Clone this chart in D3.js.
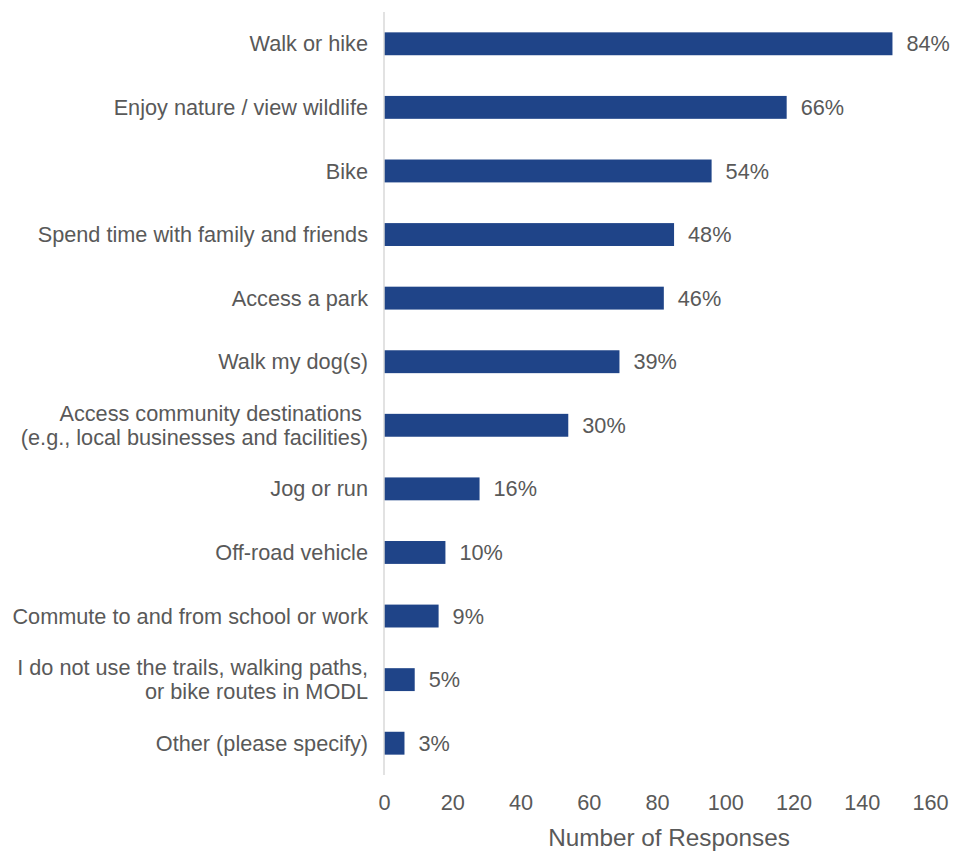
<!DOCTYPE html>
<html>
<head>
<meta charset="utf-8">
<script src="https://cdn.jsdelivr.net/npm/d3@7"></script>
<style>
  body { margin: 0; background: #fff; }
  text { font-family: "Liberation Sans", Arial, sans-serif; fill: #595959; }
</style>
</head>
<body>
<div id="chart"></div>
<script>
/* trail use bar chart */

var categories = [
	["Walk or hike"],
	["Enjoy nature / view wildlife"],
	["Bike"],
	["Spend time with family and friends"],
	["Access a park"],
	["Walk my dog(s)"],
	["Access community destinations ", "(e.g., local businesses and facilities)"],
	["Jog or run"],
	["Off-road vehicle"],
	["Commute to and from school or work"],
	["I do not use the trails, walking paths,", "or bike routes in MODL"],
	["Other (please specify)"]
];
var responses = [149, 118, 96, 85, 82, 69, 54, 28, 18, 16, 9, 6];
var percents = ["84%", "66%", "54%", "48%", "46%", "39%", "30%", "16%", "10%", "9%", "5%", "3%"];
var xTicks = [0, 20, 40, 60, 80, 100, 120, 140, 160];

var width = 961, height = 853;
var margin = {top: 12, right: 31, bottom: 78, left: 384};
var fontSize = "21.7px";

var svg = d3.select("#chart").append("svg")
	.attr("width", width)
	.attr("height", height);

var x = d3.scaleLinear()
	.domain([0, 160])
	.range([margin.left, width - margin.right]);

var y = d3.scaleBand()
	.domain(d3.range(categories.length))
	.range([margin.top, height - margin.bottom])
	.paddingInner(0.64)
	.paddingOuter(0.32);

// bars
svg.selectAll(".bar")
	.data(responses)
	.enter()
	.append("rect")
	.attr("x", x(0))
	.attr("y", (d, i) => y(i))
	.attr("width", d => x(d) - x(0))
	.attr("height", y.bandwidth())
	.style("fill", "#1f4488");

// value labels
svg.selectAll(".pct")
	.data(responses)
	.enter()
	.append("text")
	.attr("x", d => x(d) + 14)
	.attr("y", (d, i) => y(i) + y.bandwidth() / 2)
	.attr("dy", "0.35em")
	.style("font-size", fontSize)
	.text((d, i) => percents[i]);

// category labels
var labels = svg.selectAll(".cat")
	.data(categories)
	.enter()
	.append("text")
	.attr("text-anchor", "end")
	.attr("y", (d, i) => y(i) + y.bandwidth() / 2)
	.style("font-size", fontSize);

labels.selectAll("tspan")
	.data(d => d.map((line, j) => ({line: line, j: j, n: d.length})))
	.enter()
	.append("tspan")
	.attr("x", margin.left - 16)
	.attr("dy", d => d.j === 0 ? (0.35 - (d.n - 1) * 0.55) + "em" : "1.1em")
	.style("white-space", "pre")
	.text(d => d.line);

// vertical axis line
svg.append("line")
	.attr("x1", x(0)).attr("x2", x(0))
	.attr("y1", margin.top).attr("y2", height - margin.bottom)
	.style("stroke", "#d9d9d9")
	.style("stroke-width", 1.5);

// x axis
var xAxis = svg.append("g")
	.attr("transform", `translate(0, ${height - margin.bottom})`)
	.call(d3.axisBottom(x).tickValues(xTicks).tickSize(0).tickPadding(20));
xAxis.select(".domain").remove();
xAxis.selectAll("text")
	.style("font-size", fontSize)
	.style("fill", "#595959")
	.style("font-family", "Liberation Sans, Arial, sans-serif");

// axis title sits a little right of the plot centre
svg.append("text")
	.attr("x", (x(0) + x(160)) / 2 + 12)
	.attr("y", 846)
	.attr("text-anchor", "middle")
	.style("font-size", "24.3px")
	.text("Number of Responses");
</script>
</body>
</html>
